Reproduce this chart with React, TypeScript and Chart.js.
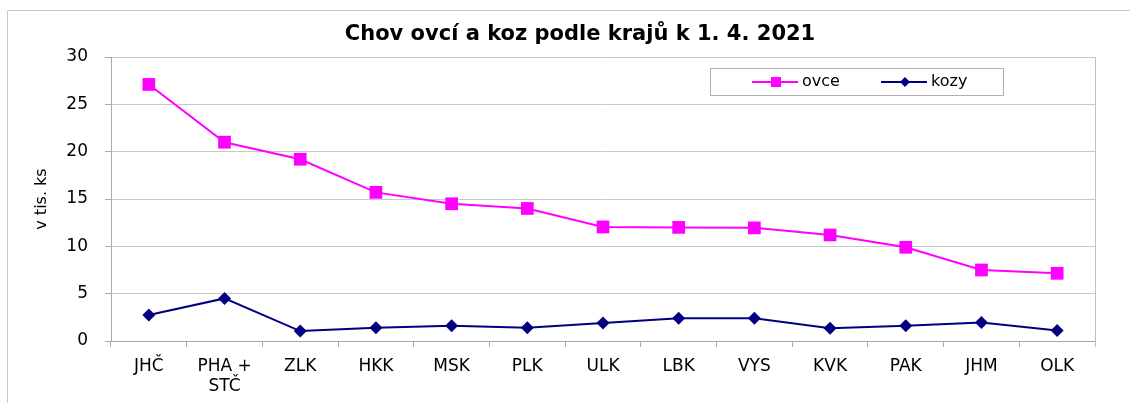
import React, { useEffect, useRef } from "react";
import { Chart, registerables } from "chart.js";

Chart.register(...registerables);

const categories: (string | string[])[] = [
  "JHČ", ["PHA +", "STČ"], "ZLK", "HKK", "MSK", "PLK", "ULK", "LBK", "VYS", "KVK", "PAK", "JHM", "OLK",
];
const ovce = [27.1, 21.0, 19.2, 15.7, 14.5, 14.0, 12.05, 12.0, 11.95, 11.2, 9.9, 7.5, 7.15];
const kozy = [2.75, 4.5, 1.05, 1.4, 1.6, 1.4, 1.9, 2.4, 2.4, 1.35, 1.6, 1.95, 1.1];
const yTicks = [0, 5, 10, 15, 20, 25, 30];
const title = "Chov ovcí a koz podle krajů k 1. 4. 2021";
const yTitle = "v tis. ks";

const FONT = "'DejaVu Sans', Verdana, sans-serif";
const MAGENTA = "#ff00ff";
const NAVY = "#000080";

const decorPlugin = {
  id: "decor",
  beforeDraw(chart: any) {
    const ctx = chart.ctx;
    ctx.save();
    ctx.fillStyle = "#ffffff";
    ctx.fillRect(0, 0, chart.width, chart.height);
    ctx.strokeStyle = "#c8c8c8";
    ctx.lineWidth = 1;
    ctx.beginPath();
    ctx.moveTo(7.5, chart.height);
    ctx.lineTo(7.5, 10.5);
    ctx.lineTo(chart.width, 10.5);
    ctx.stroke();
    ctx.restore();
  },
  afterDraw(chart: any) {
    const ctx = chart.ctx;
    const area = chart.chartArea;
    ctx.save();
    // right border of plot area
    ctx.strokeStyle = "#c0c0c0";
    ctx.lineWidth = 1;
    ctx.beginPath();
    ctx.moveTo(Math.round(area.right) + 0.5, area.top);
    ctx.lineTo(Math.round(area.right) + 0.5, area.bottom + 6);
    ctx.stroke();

    // title
    ctx.fillStyle = "#000";
    ctx.font = `bold 21px ${FONT}`;
    ctx.textAlign = "center";
    ctx.textBaseline = "middle";
    ctx.fillText(title, 580, 35);

    // legend
    ctx.fillStyle = "#fff";
    ctx.fillRect(710.5, 68.5, 293, 27);
    ctx.strokeStyle = "#b0b0b0";
    ctx.strokeRect(710.5, 68.5, 293, 27);
    const ly = 82;
    ctx.lineWidth = 2;
    ctx.strokeStyle = MAGENTA;
    ctx.beginPath();
    ctx.moveTo(752, ly);
    ctx.lineTo(798, ly);
    ctx.stroke();
    ctx.fillStyle = MAGENTA;
    ctx.fillRect(771, ly - 5, 10, 10);
    ctx.strokeStyle = NAVY;
    ctx.beginPath();
    ctx.moveTo(881, ly);
    ctx.lineTo(927, ly);
    ctx.stroke();
    ctx.fillStyle = NAVY;
    ctx.beginPath();
    ctx.moveTo(905, ly - 5);
    ctx.lineTo(910, ly);
    ctx.lineTo(905, ly + 5);
    ctx.lineTo(900, ly);
    ctx.closePath();
    ctx.fill();
    ctx.fillStyle = "#000";
    ctx.font = `16px ${FONT}`;
    ctx.textAlign = "left";
    ctx.textBaseline = "middle";
    ctx.fillText("ovce", 802, ly);
    ctx.fillText("kozy", 931, ly);
    ctx.restore();
  },
};

export default function App() {
  const ref = useRef<HTMLCanvasElement>(null);
  useEffect(() => {
    const prevMargin = document.body.style.margin;
    document.body.style.margin = "0";
    const chart = new Chart(ref.current!, {
      type: "line",
      data: {
        labels: categories as any,
        datasets: [
          {
            label: "ovce",
            data: ovce,
            borderColor: MAGENTA,
            backgroundColor: MAGENTA,
            borderWidth: 2,
            pointStyle: "rect",
            pointRadius: 9,
            pointBorderWidth: 0,
            tension: 0,
          },
          {
            label: "kozy",
            data: kozy,
            borderColor: NAVY,
            backgroundColor: NAVY,
            borderWidth: 2,
            pointStyle: "rectRot",
            pointRadius: 6.5,
            pointBorderWidth: 0,
            tension: 0,
          },
        ],
      },
      options: {
        responsive: false,
        animation: false,
        devicePixelRatio: 1,
        layout: { padding: { top: 57, right: 35, left: 0, bottom: 0 } },
        plugins: {
          legend: { display: false },
          tooltip: { enabled: false },
          title: { display: false },
        },
        scales: {
          x: {
            type: "category",
            offset: true,
            grid: {
              offset: true,
              drawOnChartArea: false,
              drawTicks: true,
              tickLength: 6,
              color: "#a8a8a8",
            },
            border: { color: "#a8a8a8" },
            ticks: {
              autoSkip: false,
              maxRotation: 0,
              padding: 10,
              color: "#000",
              font: { family: FONT, size: 17, lineHeight: 1.15 },
            },
            afterFit: (s: any) => {
              s.height = 62;
            },
          },
          y: {
            min: 0,
            max: 30,
            afterBuildTicks: (s: any) => {
              s.ticks = yTicks.map((v) => ({ value: v }));
            },
            grid: { color: "#c8c8c8", tickLength: 6, tickColor: "#a8a8a8" },
            border: { color: "#a8a8a8" },
            ticks: {
              padding: 17,
              color: "#000",
              font: { family: FONT, size: 17 },
            },
            title: {
              display: true,
              text: yTitle,
              color: "#000",
              font: { family: FONT, size: 16 },
              padding: { top: 32, bottom: 0 },
            },
            afterFit: (s: any) => {
              s.width = 111;
            },
          },
        },
      },
      plugins: [decorPlugin],
    });
    return () => {
      chart.destroy();
      document.body.style.margin = prevMargin;
    };
  }, []);
  return (
    <div style={{ position: "absolute", left: 0, top: 0, width: 1130, height: 403 }}>
      <canvas ref={ref} width={1130} height={403} style={{ width: 1130, height: 403, display: "block" }} />
    </div>
  );
}
